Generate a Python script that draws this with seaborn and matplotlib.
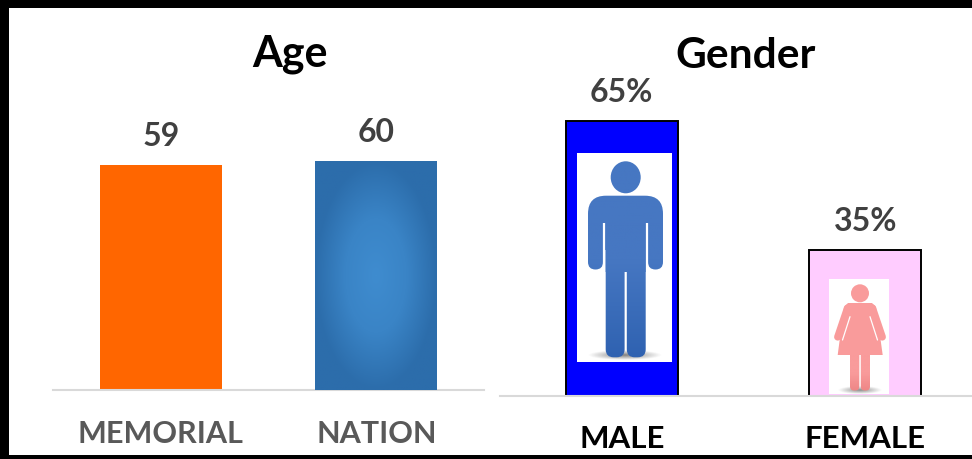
import numpy as np
import pandas as pd
import seaborn as sns
import matplotlib.pyplot as plt
from matplotlib.patches import Rectangle, FancyBboxPatch, Ellipse, Polygon, PathPatch
from matplotlib.path import Path
from matplotlib.transforms import Affine2D
from matplotlib.colors import LinearSegmentedColormap, to_rgb

age_labels = ['MEMORIAL', 'NATION']
age_values = [59, 60]
age_colors = ['#ff6600', '#2e70ae']

gender_labels = ['MALE', 'FEMALE']
gender_values = [65, 35]
gender_colors = ['#0000ff', '#ffccff']

W, H = 972, 459

sns.set_theme(style='white')
plt.rcParams['font.family'] = ['Lato', 'DejaVu Sans']

fig = plt.figure(figsize=(W / 100, H / 100), dpi=100)


def px_axes(left, top, right, bottom, **kw):
    return fig.add_axes([left / W, 1 - bottom / H, (right - left) / W, (bottom - top) / H], **kw)


def bars(ax, labels, values, colors, width, edge, lw):
    df = pd.DataFrame({'label': labels, 'value': values})
    sns.barplot(data=df, x='label', y='value', hue='label', palette=colors, width=width,
                saturation=1, legend=False, edgecolor=edge, linewidth=lw, ax=ax)
    ax.set_xlabel('')
    ax.set_ylabel('')
    ax.set_yticks([])
    ax.set_xlim(-0.5, 1.5)
    sns.despine(ax=ax, left=True)
    ax.spines['bottom'].set_color('#d9d9d9')
    ax.spines['bottom'].set_linewidth(1.5)
    ax.patch.set_alpha(0)


# left panel
ax1 = px_axes(53, 100, 484, 389.5)
bars(ax1, age_labels, age_values, age_colors, 0.565, 'none', 0)
ax1.set_ylim(0, 289.5 / 3.81)
ax1.tick_params(axis='x', length=0, pad=22)
for t in ax1.get_xticklabels():
    t.set_fontsize(22)
    t.set_fontweight('bold')
    t.set_color('#595959')
for c in ax1.containers:
    ax1.bar_label(c, padding=10, fontsize=23, fontweight='bold', color='#404040')

# soft radial highlight on the NATION bar
nation = ax1.containers[1][0]
x0, w0 = nation.get_x(), nation.get_width()
h0 = nation.get_height()
yy, xx = np.mgrid[-1:1:120j, -1:1:120j]
glow = LinearSegmentedColormap.from_list('glow', ['#3f8ccf', '#3a84c6', '#2c6dab'])
img = ax1.imshow(np.clip(np.hypot(xx, yy), 0, 1), cmap=glow, extent=(x0, x0 + w0, 0, h0),
                 aspect='auto', zorder=3)
img.set_clip_path(nation)
ax1.set_xlim(-0.5, 1.5)
ax1.set_ylim(0, 289.5 / 3.81)

# right panel, its axis runs past the figure edge
ax2 = px_axes(500, 100, 987, 395.5)
bars(ax2, gender_labels, gender_values, gender_colors, 0.462, 'black', 1.4)
ax2.set_ylim(1.16, 1.16 + 295.5 / 4.3)
ax2.tick_params(axis='x', length=0, pad=21)
for t in ax2.get_xticklabels():
    t.set_fontsize(22.5)
    t.set_color('black')
    t.set_fontweight('bold')
for c in ax2.containers:
    ax2.bar_label(c, fmt='%d%%', padding=10, fontsize=23, fontweight='bold', color='#404040')

# overlay in pixel coordinates: frame, titles, pictograms
ov = fig.add_axes([0, 0, 1, 1], zorder=5)
ov.set_xlim(0, W)
ov.set_ylim(H, 0)
ov.axis('off')
ov.patch.set_alpha(0)

for box in [(0, 0, W, 8), (0, 0, 9, H), (0, 455, W, 4)]:
    ov.add_patch(Rectangle(box[:2], box[2], box[3], color='black', lw=0))

ov.text(290, 53.5, 'Age', fontsize=31, fontweight='bold', color='black', ha='center', va='center')
ov.text(746, 56.5, 'Gender', fontsize=30.5, fontweight='bold', color='black', ha='center', va='center')


def rbox(x0, y0, x1, y1, r):
    return FancyBboxPatch((x0 + r, y0 + r), x1 - x0 - 2 * r, y1 - y0 - 2 * r,
                          boxstyle='round,pad=%f,rounding_size=%f' % (r, r)).get_path()


def fill_gradient(paths, box, top, bottom):
    x0, y0, x1, y1 = box
    cm = LinearSegmentedColormap.from_list('fig', [top, top, bottom])
    im = ov.imshow(np.linspace(0, 1, 200)[:, None], cmap=cm, extent=(x0, x1, y1, y0),
                   aspect='auto', zorder=4)
    clip = PathPatch(Path.make_compound_path(*paths), transform=ov.transData, fc='none', ec='none')
    ov.add_patch(clip)
    im.set_clip_path(clip)


def shadow(cx, cy, rx, ry, color):
    yy, xx = np.mgrid[-1:1:60j, -1:1:200j]
    a = np.clip(1 - np.hypot(xx, yy), 0, 1) * 0.75
    rgba = np.zeros((60, 200, 4))
    rgba[..., :3] = to_rgb(color)
    rgba[..., 3] = a
    ov.imshow(rgba, extent=(cx - rx, cx + rx, cy + ry, cy - ry), aspect='auto', zorder=3.5)


# male pictogram
ov.add_patch(Rectangle((577, 153), 95, 209, color='white', lw=0, zorder=3))
shadow(625, 355, 37, 5, '#555555')
torso = Rectangle((605.7, 200), 40, 72)
male_parts = [
    Path.unit_circle().transformed(Affine2D().scale(15, 16).translate(625.7, 177.3)),
    rbox(588, 195.7, 663, 250, 18),
    rbox(588, 215, 603, 269.5, 7.5),
    rbox(648, 215, 663, 269.5, 7.5),
    torso.get_path().transformed(torso.get_patch_transform()),
    rbox(605.7, 240, 624.6, 357.3, 8),
    rbox(626.8, 240, 645.7, 357.3, 8),
]
fill_gradient(male_parts, (588, 161, 664, 358), '#4677c2', '#2f62b1')
for x in (604.3, 647):
    ov.plot([x, x], [222.7, 272], color='white', lw=1.6, zorder=4.5, solid_capstyle='butt')

# female pictogram
ov.add_patch(Rectangle((829, 279), 60, 115, color='white', lw=0, zorder=3))
shadow(860, 390, 22, 4, '#666666')
pink = '#f99b9b'
ov.add_patch(Ellipse((860, 293.3), 18, 18, color=pink, lw=0, zorder=4))
ov.add_patch(Polygon([(848, 303), (872, 303), (876, 307), (882.7, 355), (837.7, 355), (844, 307)],
                     closed=True, color=pink, lw=0, zorder=4))
for a, b in [((847.5, 308), (837.7, 337)), ((872.5, 308), (882.3, 337))]:
    ov.plot([a[0], b[0]], [a[1], b[1]], color=pink, lw=5.2, solid_capstyle='round', zorder=4)
for a, b in [((850, 316.7), (842.5, 340)), ((870, 316.7), (877.5, 340))]:
    ov.plot([a[0], b[0]], [a[1], b[1]], color='white', lw=0.9, zorder=4.5)
legs = [rbox(850, 345, 859.3, 390.5, 4), rbox(860.8, 345, 870, 390.5, 4)]
fill_gradient(legs, (849, 355, 871, 391), pink, '#ee8686')

ov.set_xlim(0, W)
ov.set_ylim(H, 0)

fig.savefig('out.png', dpi=100)
